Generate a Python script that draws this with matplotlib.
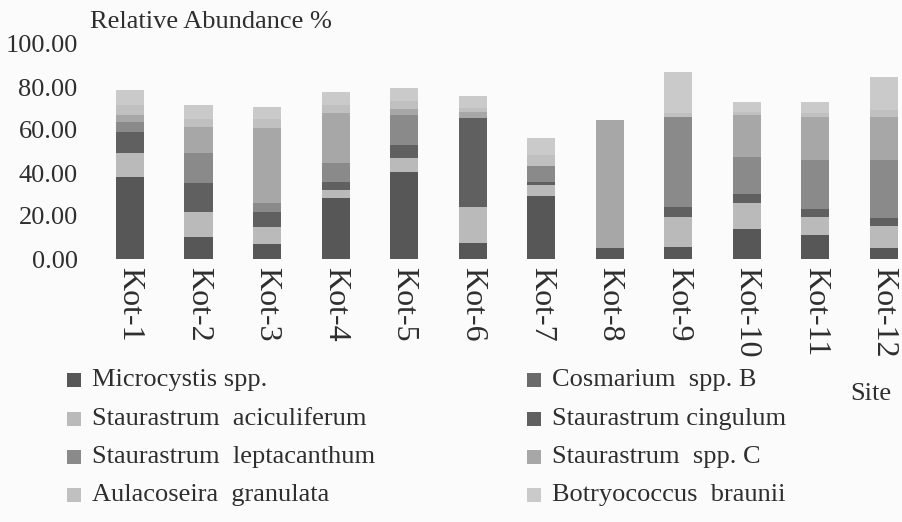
import matplotlib
matplotlib.use("Agg")
import matplotlib.pyplot as plt
from matplotlib.patches import Rectangle
import numpy as np

sites = ["Kot-1", "Kot-2", "Kot-3", "Kot-4", "Kot-5", "Kot-6",
         "Kot-7", "Kot-8", "Kot-9", "Kot-10", "Kot-11", "Kot-12"]

species = ["Microcystis spp.", "Cosmarium  spp. B",
           "Staurastrum  aciculiferum", "Staurastrum cingulum",
           "Staurastrum  leptacanthum", "Staurastrum  spp. C",
           "Aulacoseira  granulata", "Botryococcus  braunii"]

microcystis     = [38.3, 10.4, 7.0, 28.2, 40.6, 7.6, 29.3, 5.0, 5.7, 13.8, 11.2, 5.0]
cosmarium_b     = [0.0, 0.0, 0.0, 0.0, 0.0, 0.0, 0.0, 0.0, 0.0, 0.0, 0.0, 0.0]
s_aciculiferum  = [10.8, 11.6, 8.0, 3.9, 6.2, 16.4, 5.1, 0.0, 14.0, 12.1, 8.5, 10.5]
s_cingulum      = [10.1, 13.2, 7.0, 3.9, 6.2, 41.4, 1.6, 0.0, 4.6, 4.3, 3.4, 3.4]
s_leptacanthum  = [4.7, 14.0, 3.9, 8.5, 14.0, 0.0, 7.3, 0.0, 41.9, 17.4, 22.9, 27.1]
s_spp_c         = [3.0, 12.0, 35.0, 23.3, 3.0, 3.0, 0.0, 59.7, 0.0, 19.4, 20.2, 20.2]
aulacoseira     = [4.7, 4.0, 4.0, 4.0, 3.4, 2.0, 5.0, 0.0, 1.5, 1.5, 1.5, 3.0]
botryococcus    = [7.0, 6.5, 5.9, 5.7, 6.0, 5.4, 7.8, 0.0, 19.1, 4.4, 5.2, 15.3]

series = [microcystis, cosmarium_b, s_aciculiferum, s_cingulum,
          s_leptacanthum, s_spp_c, aulacoseira, botryococcus]
colors = ["#575757", "#6a6a6a", "#bababa", "#606060",
          "#8a8a8a", "#a7a7a7", "#c0c0c0", "#cacaca"]

yticks = [0, 20, 40, 60, 80, 100]

TXT = "#2e2e2e"
FONT = "Liberation Serif"
FS = 19
FSX = 23

W, H = 902, 522
fig = plt.figure(figsize=(W / 100, H / 100), dpi=100)
fig.patch.set_facecolor("#fbfbfb")

ax_left = 95.7 / W
ax_right = 901 / W
ax_bottom = 1 - 259 / H
ax_top = 1 - 44 / H
ax = fig.add_axes([ax_left, ax_bottom, ax_right - ax_left, ax_top - ax_bottom])
ax.set_facecolor("none")

x = np.arange(len(sites))
bottom = np.zeros(len(sites))
for vals, col in zip(series, colors):
    v = np.array(vals)
    ax.bar(x, v, width=0.41, bottom=bottom, color=col, linewidth=0)
    bottom += v

ax.set_xlim(-0.5, 11.25)
ax.set_ylim(0, 100)
ax.set_yticks(yticks)
ax.set_yticklabels([f"{t:.2f}" for t in yticks], fontfamily=FONT, fontsize=FS, color=TXT)
ax.set_xticks(x)
ax.set_xticklabels(sites, rotation=-90, fontfamily=FONT, fontsize=FSX, color=TXT,
                   va="top", ha="center")
ax.tick_params(axis="both", length=0)
ax.tick_params(axis="y", pad=13)
ax.tick_params(axis="x", pad=6)
for s in ax.spines.values():
    s.set_visible(False)

fig.text(90 / W, 1 - 22 / H, "Relative Abundance %", fontfamily=FONT, fontsize=FS,
         color=TXT, ha="left", va="center")
fig.text(871 / W, 1 - 394 / H, "Site", fontfamily=FONT, fontsize=FS,
         color=TXT, ha="center", va="center")

# legend (two columns, row-wise order)
row_y = [380, 419, 457, 495]
col_marker_x = [67, 527]
col_text_x = [92, 552]
sq = 14
for i, (name, col) in enumerate(zip(species, colors)):
    r, c = divmod(i, 2)
    yc = row_y[r]
    fig.patches.append(Rectangle((col_marker_x[c] / W, 1 - (yc + sq / 2) / H),
                                 sq / W, sq / H, transform=fig.transFigure,
                                 facecolor=col, edgecolor="none"))
    fig.text(col_text_x[c] / W, 1 - yc / H, name, fontfamily=FONT, fontsize=FS,
             color=TXT, ha="left", va="center")

fig.savefig("out.png", dpi=100, facecolor=fig.get_facecolor())
